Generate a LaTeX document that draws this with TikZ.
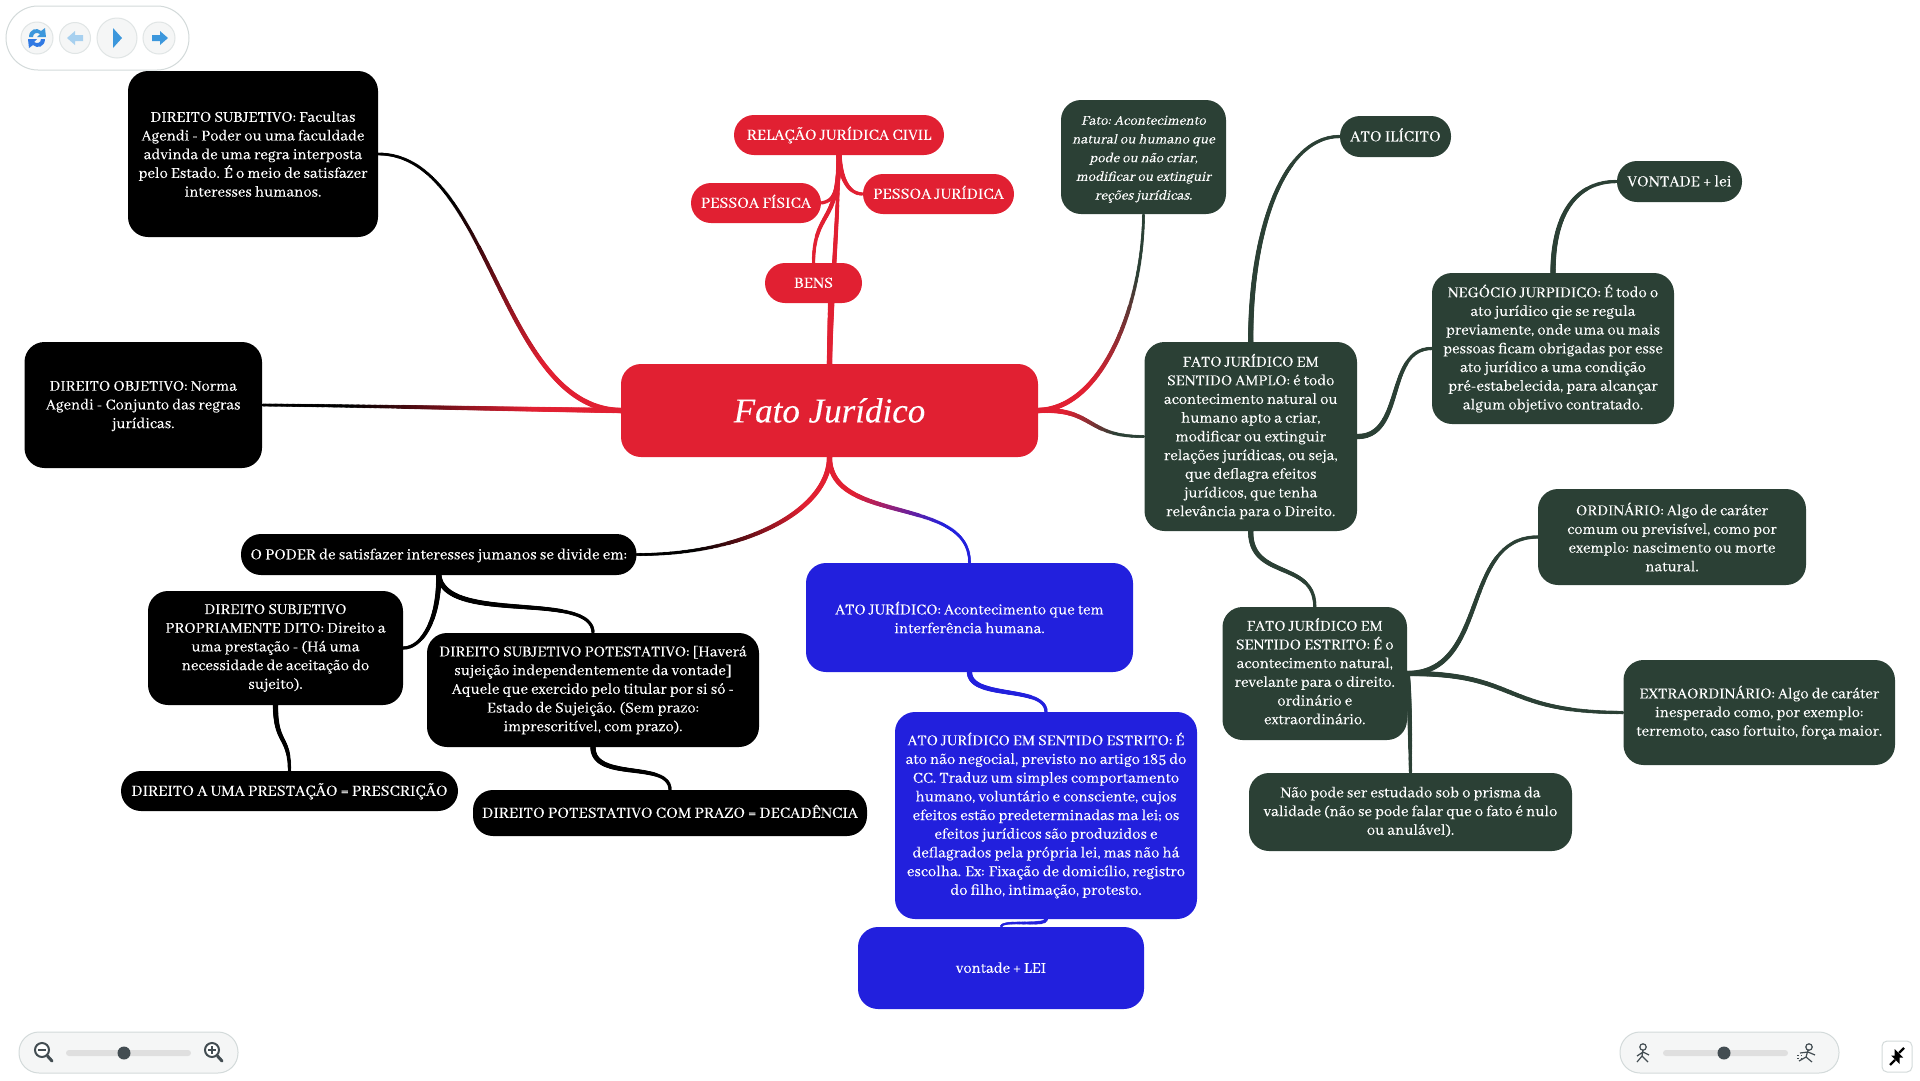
\documentclass[tikz,border=0pt]{standalone}
\usepackage{fontspec}
\setmainfont{Abhaya Libre}[FakeBold=0.25,ItalicFont={Liberation Serif Italic},ItalicFeatures={FakeBold=0.2}]
\newfontfamily\slantfont{Abhaya Libre}[FakeSlant=0.22,FakeBold=0.25]
\usetikzlibrary{decorations.markings,backgrounds,arrows.meta}
\definecolor{redc}{HTML}{E12032}
\definecolor{greenc}{HTML}{2B4035}
\definecolor{bluec}{HTML}{2220DD}
\definecolor{iconb}{HTML}{3C97DC}
\definecolor{pilledge}{HTML}{D3DADA}
\definecolor{pillfill}{HTML}{F5F6F6}
\definecolor{knobc}{HTML}{434D52}
\definecolor{trackc}{HTML}{DFDFDF}
\newcommand\movedtext[2]{\raisebox{#1}[0pt][0pt]{\begin{tabular}{@{}c@{}}#2\end{tabular}}}
\tikzset{
 box/.style={fill=#1,text=white,rounded corners=20pt,inner sep=0pt,align=center,
   font=\fontsize{16.5}{18.7}\selectfont},
 oneline/.style={text height=13pt,text depth=3.5pt},
 capsline/.style={oneline,font=\fontsize{17}{18.7}\selectfont},
 wire/.style n args={4}{draw=#2,line width=#4pt-0.6pt,
   postaction={decorate,decoration={markings,
     mark=between positions 0 and 1 step 1.2pt with {
       \pgfmathsetmacro\tval{\pgfkeysvalueof{/pgf/decoration/mark info/distance from start}/\pgfdecoratedpathlength}
       \pgfmathsetmacro\pval{100*max(0,min(1,(\tval-0.25)/0.5))}
       \pgfmathsetmacro\rval{(#3+(#4-#3)*\tval)/2}
       \fill[color={#2!\pval!#1}] (0,0) circle (\rval pt);
     }}}},
 rr/.style={wire={redc}{redc}{5.5}{3.5}},
 rk/.style={wire={redc}{black}{5.5}{3}},
 rg/.style={wire={redc}{greenc}{5.5}{3}},
 rb/.style={wire={redc}{bluec}{5.5}{3}},
 kk/.style={wire={black}{black}{5.5}{3.5}},
 gg/.style={wire={greenc}{greenc}{5.5}{3.5}},
 bb/.style={wire={bluec}{bluec}{5.5}{3.5}},
}
\begin{document}
\begin{tikzpicture}[x=1pt,y=-1pt]
\useasboundingbox (0,0) rectangle (1920,1080);
% red
\node[box=redc,minimum width=417pt,minimum height=93pt] (root) at (829.5,410.5) {\fontsize{35}{44}\selectfont\itshape Fato Jurídico};
\node[box=redc,capsline,minimum width=210pt,minimum height=40pt] (relac) at (839,135) {RELAÇÃO JURÍDICA CIVIL};
\node[box=redc,capsline,minimum width=130pt,minimum height=40pt] (pf) at (756,203) {PESSOA FÍSICA};
\node[box=redc,capsline,minimum width=151pt,minimum height=40pt] (pj) at (938.5,194) {PESSOA JURÍDICA};
\node[box=redc,capsline,minimum width=97pt,minimum height=40pt] (bens) at (813.5,283) {BENS};
% green
\node[box=greenc,minimum width=165pt,minimum height=114pt] (fato) at (1143.5,157) {\slantfont\fontsize{14.8}{18.7}\selectfont\movedtext{-5pt}{Fato: Acontecimento\\natural ou humano que\\pode ou não criar,\\modificar ou extinguir\\reções jurídicas.}};
\node[box=greenc,minimum width=212.5pt,minimum height=189pt] (amplo) at (1250.75,436.5) {FATO JURÍDICO EM\\SENTIDO AMPLO: é todo\\acontecimento natural ou\\humano apto a criar,\\modificar ou extinguir\\relações jurídicas, ou seja,\\que deflagra efeitos\\jurídicos, que tenha\\relevância para o Direito.};
\node[box=greenc,capsline,minimum width=111pt,minimum height=41pt] (ilic) at (1395.5,136.5) {ATO ILÍCITO};
\node[box=greenc,capsline,minimum width=125pt,minimum height=41pt] (vont) at (1679.5,181.5) {VONTADE + lei};
\node[box=greenc,minimum width=242pt,minimum height=151pt] (neg) at (1553,348.5) {NEGÓCIO JURPIDICO: É todo o\\ato jurídico qie se regula\\previamente, onde uma ou mais\\pessoas ficam obrigadas por esse\\ato jurídico a uma condição\\pré-estabelecida, para alcançar\\algum objetivo contratado.};
\node[box=greenc,minimum width=268pt,minimum height=96pt] (ord) at (1672,537) {ORDINÁRIO: Algo de caráter\\comum ou previsível, como por\\exemplo: nascimento ou morte\\natural.};
\node[box=greenc,minimum width=184.5pt,minimum height=133pt] (estr) at (1314.75,673.5) {\movedtext{-4.5pt}{FATO JURÍDICO EM\\SENTIDO ESTRITO: É o\\acontecimento natural,\\revelante para o direito.\\ordinário e\\extraordinário.}};
\node[box=greenc,minimum width=271.5pt,minimum height=105pt] (extra) at (1759.25,712.5) {EXTRAORDINÁRIO: Algo de caráter\\inesperado como, por exemplo:\\terremoto, caso fortuito, força maior.};
\node[box=greenc,minimum width=323pt,minimum height=78pt] (nao) at (1410.5,812) {Não pode ser estudado sob o prisma da\\validade (não se pode falar que o fato é nulo\\ou anulável).};
% blue
\node[box=bluec,minimum width=327pt,minimum height=109pt] (atoj) at (969.5,617.5) {ATO JURÍDICO: Acontecimento que tem\\interferência humana.};
\node[box=bluec,minimum width=302pt,minimum height=207pt] (atoe) at (1046,815.5) {ATO JURÍDICO EM SENTIDO ESTRITO: É\\ato não negocial, previsto no artigo 185 do\\CC. Traduz um simples comportamento\\humano, voluntário e consciente, cujos\\efeitos estão predeterminadas ma lei; os\\efeitos jurídicos são produzidos e\\deflagrados pela própria lei, mas não há\\escolha. Ex: Fixação de domicílio, registro\\do filho, intimação, protesto.};
\node[box=bluec,oneline,minimum width=286pt,minimum height=82pt] (vontl) at (1001,968) {vontade + LEI};
% black
\node[box=black,minimum width=250pt,minimum height=166pt] (ds) at (253,154) {DIREITO SUBJETIVO: Facultas\\Agendi - Poder ou uma faculdade\\advinda de uma regra interposta\\pelo Estado. É o meio de satisfazer\\interesses humanos.};
\node[box=black,minimum width=237.5pt,minimum height=126pt] (do) at (143.25,405) {\movedtext{-5pt}{DIREITO OBJETIVO: Norma\\Agendi - Conjunto das regras\\jurídicas.}};
\node[box=black,oneline,minimum width=395.5pt,minimum height=41pt,font=\fontsize{16.7}{18.7}\selectfont] (poder) at (438.75,554.5) {O PODER de satisfazer interesses jumanos se divide em:};
\node[box=black,minimum width=255pt,minimum height=114pt] (dspd) at (275.5,648) {DIREITO SUBJETIVO\\PROPRIAMENTE DITO: Direito a\\uma prestação - (Há uma\\necessidade de aceitação do\\sujeito).};
\node[box=black,minimum width=332pt,minimum height=114pt] (dsp) at (593,690) {DIREITO SUBJETIVO POTESTATIVO: [Haverá\\sujeição independentemente da vontade]\\Aquele que exercido pelo titular por si só -\\Estado de Sujeição. (Sem prazo:\\imprescritível, com prazo).};
\node[box=black,capsline,minimum width=337pt,minimum height=40pt] (dauma) at (289.5,791) {DIREITO A UMA PRESTAÇÃO = PRESCRIÇÃO};
\node[box=black,capsline,minimum width=394pt,minimum height=46pt] (dpcp) at (670,813) {DIREITO POTESTATIVO COM PRAZO = DECADÊNCIA};
% connectors
\begin{pgfonlayer}{background}
\draw[rk] (root.west) .. controls (500,408) and (490,154) .. (ds.east);
\draw[rk] (root.west) .. controls (500,409) and (380,406) .. (do.east);
\draw[rk] (root.south) .. controls (829,510) and (745,555) .. (poder.east);
\draw[rb] (root.south) .. controls (830,525) and (970,495) .. (atoj.north);
\draw[rr] (root.north) .. controls (831,300) and (838,220) .. (relac.south);
\draw[rr] (root.north) -- (bens.south -| root.north);
\draw[rr] (relac.south) .. controls (839,225) and (814,210) .. (bens.north);
\draw[rr] (relac.south) .. controls (839,190) and (835,201) .. (pf.east);
\draw[rr] (relac.south) .. controls (841,182) and (850,194) .. (pj.west);
\draw[rg] (root.east) .. controls (1105,408) and (1143,300) .. (fato.south);
\draw[rg] (root.east) .. controls (1095,408) and (1085,437) .. (amplo.west);
\draw[gg] (amplo.north) .. controls (1250,240) and (1280,136.5) .. (ilic.west);
\draw[gg] (amplo.east) .. controls (1405,437) and (1385,348.5) .. (neg.west);
\draw[gg] (neg.north) .. controls (1553,215) and (1575,181.5) .. (vont.west);
\draw[gg] (amplo.south) .. controls (1250,580) and (1315,560) .. (estr.north);
\draw[gg] (estr.east) .. controls (1490,673) and (1460,537) .. (ord.west);
\draw[gg] (estr.east) .. controls (1520,673) and (1500,712.5) .. (extra.west);
\draw[gg] (estr.east) .. controls (1410,700) and (1410,740) .. (nao.north);
\draw[bb] (atoj.south) .. controls (970,700) and (1046,685) .. (atoe.north);
\draw[wire={bluec}{bluec}{4}{2.5}] (atoe.south) .. controls (1046,927) and (1001,919) .. (vontl.north);
\draw[kk] (poder.south) .. controls (439,620) and (422,648) .. (dspd.east);
\draw[kk] (poder.south) .. controls (445,625) and (593,590) .. (dsp.north);
\draw[kk] (dspd.south) .. controls (275.5,745) and (289.5,735) .. (dauma.north);
\draw[kk] (dsp.south) .. controls (593,782) and (670,760) .. (dpcp.north);
\end{pgfonlayer}
% top toolbar
\draw[pilledge,fill=white,line width=1pt,rounded corners=32pt] (6,6) rectangle (189,70);
\foreach \cx/\r in {37/16,75/15.5,117/20,159/16}
  \draw[pilledge!70!white,fill=pillfill,line width=1pt] (\cx,38) circle (\r pt);
% refresh icon
\fill[iconb] (29,37) .. controls (29,29) and (37,27) .. (41,31) -- (45,28) -- (46,37) -- (37,37) -- (40,34) .. controls (37,32) and (33,33) .. (33,37) -- cycle;
\fill[iconb!80!blue] (45,39) .. controls (45,47) and (37,49) .. (33,45) -- (29,48) -- (28,39) -- (37,39) -- (34,42) .. controls (37,44) and (41,43) .. (41,39) -- cycle;
% back
\fill[iconb!45!white] (67,38) -- (75,31) -- (75,35) -- (83,35) -- (83,41) -- (75,41) -- (75,45) -- cycle;
% play
\fill[iconb] (113,28) -- (113,48) -- (122,38) -- cycle;
% forward
\fill[iconb] (168,38) -- (160,31) -- (160,35) -- (152,35) -- (152,41) -- (160,41) -- (160,45) -- cycle;
% zoom slider
\draw[pilledge,fill=pillfill,line width=1pt,rounded corners=20pt] (19,1032) rectangle (238,1073);
\fill[trackc,rounded corners=3pt] (66,1050) rectangle (191,1056);
\fill[knobc] (124,1053) circle (6.5pt);
\draw[knobc,line width=2pt,fill=white] (42,1050) circle (7pt);
\draw[knobc,line width=3pt,line cap=round] (47.5,1056) -- (52,1061);
\draw[knobc,line width=2pt] (38,1050) -- (46,1050);
\draw[knobc,line width=2pt,fill=white] (212,1050) circle (7pt);
\draw[knobc,line width=3pt,line cap=round] (217.5,1056) -- (222,1061);
\draw[knobc,line width=2pt] (208,1050) -- (216,1050) (212,1046) -- (212,1054);
% speed slider
\draw[pilledge,fill=pillfill,line width=1pt,rounded corners=20pt] (1620,1032) rectangle (1839,1073);
\fill[trackc,rounded corners=3pt] (1663,1050) rectangle (1788,1056);
\fill[knobc] (1724,1053) circle (6.5pt);
\draw[knobc,line width=1.2pt] (1643,1047) circle (3.2pt) (1643,1050) -- (1642,1056) -- (1637,1062) (1642,1056) -- (1648,1062) (1637,1056) -- (1643,1052) -- (1649,1055);
\draw[knobc,line width=1.2pt] (1809,1047) circle (3.2pt) (1808,1050) -- (1806,1057) -- (1812,1062) (1806,1057) -- (1799,1061) (1800,1053) -- (1808,1052) -- (1815,1055);
\draw[knobc,line width=1pt,dash pattern=on 2pt off 1.5pt] (1797,1055) -- (1802,1055) (1797,1058) -- (1801,1058);
% collapse button
\draw[pilledge,fill=white,line width=1pt,rounded corners=5pt] (1882,1041) rectangle (1912,1072);
\draw[black,line width=2.4pt] (1890,1065) -- (1895,1060) (1904,1048) -- (1899,1053);
\fill[black] (1891,1055.5) -- (1899.5,1064) -- (1899.5,1055.5) -- cycle;
\fill[black] (1903,1057.5) -- (1894.5,1049) -- (1894.5,1057.5) -- cycle;
\end{tikzpicture}
\end{document}
